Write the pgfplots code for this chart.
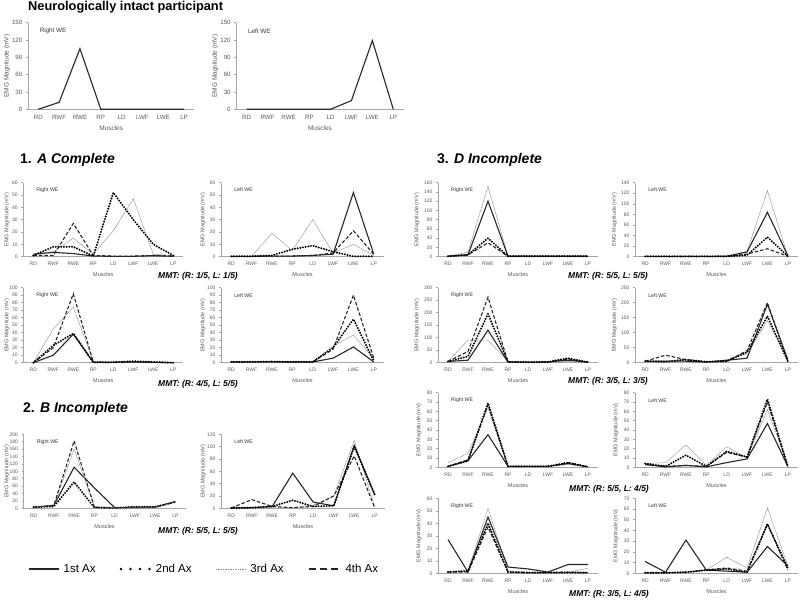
\documentclass[border=0pt]{standalone}
\usepackage{fontspec}
\setmainfont{Liberation Sans}
\usepackage{pgfplots}
\usepackage{pgfplotstable}
\pgfplotsset{compat=1.18}

\definecolor{axgray}{HTML}{A6A6A6}
\definecolor{tkgray}{HTML}{595959}
\definecolor{lngray}{HTML}{8C8C8C}

\pgfplotstableread{
x a
0 0
1 12
2 105
3 0
4 0
5 0
6 0
7 0
}\tNR
\pgfplotstableread{
x a
0 0
1 0
2 0
3 0
4 0
5 15
6 119
7 0
}\tNL
\pgfplotstableread{
x a b c d
0 2 1 2 1
1 3.5 8 4 1
2 2.5 8 15 27
3 0.5 0.5 2 1
4 0.3 52 21 0.5
5 0.3 30 47 0.5
6 0.8 10 2 1
7 0.3 1 1 0.5
}\tARa
\pgfplotstableread{
x a b c d
0 0.3 0.3 0.3 0.3
1 0.3 0.3 0.3 0.3
2 0.5 1 19 0.5
3 0.5 6 5 0.5
4 1 9 30 1
5 2 4 3 3
6 52 0.3 10 21
7 2 0.3 1 2
}\tALa
\pgfplotstableread{
x a b c d
0 0 0 0 0
1 10 23 45 20
2 38 39 74 92
3 0.5 0.5 2 0.5
4 0.5 0.5 0.5 0.5
5 1 2 1 1
6 0.5 1 0.5 0.5
7 0 0 0 0
}\tARb
\pgfplotstableread{
x a b c d
0 1 1 1 1
1 1 1 1 1
2 1 1.5 1 1
3 1 1 1 1
4 1 1 1 1
5 6 20 22 18
6 21 58 37 90
7 1 2 5 6
}\tALb
\pgfplotstableread{
x a b c d
0 3 3 3 3
1 8 5 8 8
2 111 71 160 182
3 55 2 5 3
4 2 1 1 1
5 2 4 2 3
6 3 4 2 3
7 18 17 17 17
}\tBR
\pgfplotstableread{
x a b c d
0 0.5 0.5 0.5 0.5
1 1 1 1 14
2 3 3 2 3
3 57 13 1 1
4 10 3 5 3
5 4 4 20 20
6 102 100 110 85
7 22 22 2 0.5
}\tBL
\pgfplotstableread{
x a b c d
0 1 1 1 1
1 4 4 10 4
2 120 40 152 30
3 1 1 1 1
4 1 1 1 1
5 1 1 1 1
6 1 1 1 1
7 1 1 1 1
}\tDRa
\pgfplotstableread{
x a b c d
0 0.5 0.5 0.5 0.5
1 0.5 0.5 0.5 0.5
2 0.5 0.5 0.5 0.5
3 0.5 0.5 0.5 0.5
4 1 0.5 0.5 0.5
5 9 3 10 5
6 84 37 125 15
7 2 1 1 1
}\tDLa
\pgfplotstableread{
x a b c d
0 5 5 5 5
1 10 25 90 45
2 130 195 90 262
3 2 3 5 3
4 2 2 2 2
5 3 3 2 3
6 10 18 5 15
7 2 2 2 2
}\tDRb
\pgfplotstableread{
x a b c d
0 5 5 5 5
1 5 3 5 25
2 5 10 12 10
3 2 3 3 3
4 8 5 10 5
5 15 35 30 40
6 195 155 140 200
7 10 5 15 3
}\tDLb
\pgfplotstableread{
x a b c d
0 1 1 5 1
1 7 7 15 8
2 35 69 64 67
3 1 1 1 1
4 1 1 1 1
5 1 1 1 1
6 4 5 3 5
7 0.5 0.5 0.5 0.5
}\tDRc
\pgfplotstableread{
x a b c d
0 3 4 4 3
1 0.5 1 5 1
2 2 13 24 2
3 0.5 1 2 1
4 5 17 22 16
5 9 11 10 11
6 47 73 62 70
7 1 1 2 1
}\tDLc
\pgfplotstableread{
x a b c d
0 27 1 0.5 1
1 1 2 2 1
2 45 40 52 37
3 5 1 2 1
4 3.5 0.5 1 0.5
5 1 0.5 1 0.5
6 7 0.5 1 1
7 7 0.5 4 0.5
}\tDRd
\pgfplotstableread{
x a b c d
0 11 0.5 0.5 0.5
1 1 0.5 0.5 0.5
2 31 1 1 1
3 3 3 3 3
4 2 4 15 5
5 1 1 5 2
6 25 46 61 46
7 7 5 7 3
}\tDLd

\pgfplotsset{
  emg/.style={
    scale only axis, anchor=south west, clip=false,
    xmin=-0.5, xmax=7.5, ymin=0,
    xtick={0,...,7}, xticklabels={RD,RWF,RWE,RP,LD,LWF,LWE,LP},
    axis x line*=bottom, axis y line*=left,
    axis line style={-, draw=axgray, line width=0.5pt},
    xtick style={draw=none},
    ytick style={draw=axgray, line width=0.5pt},
    tick align=outside, major tick length=2pt,
    tick label style={font=\fontsize{5}{6}\selectfont, text=tkgray},
    xlabel={Muscles}, ylabel={EMG Magnitude (mV)},
    label style={font=\fontsize{5.5}{6.5}\selectfont, text=tkgray},
    /pgf/number format/assume math mode=true,
    no markers,
  },
  yoff/.style={ylabel style={at={(axis description cs:0,0.5)}, anchor=center, yshift=#1pt, font=\fontsize{5.5}{6.5}\selectfont, text=tkgray}},
  s1/.style={black!85, line width=1.1pt, solid},
  s2/.style={black, line width=2.2pt, dash pattern=on 0pt off 2.7pt, line cap=round},
  s3/.style={lngray, line width=0.55pt, dash pattern=on 0.8pt off 0.5pt},
  s4/.style={black!85, line width=1.1pt, dash pattern=on 3.5pt off 2pt},
}

\newcommand\panel[9]{%
\begin{axis}[emg, at={(#1pt,#2pt)}, width=#3pt, height=#4pt, ymax=#5, ytick distance=#6, yoff=#9]
\addplot[s3] table[x=x,y=c]{#7};
\addplot[s4] table[x=x,y=d]{#7};
\addplot[s1] table[x=x,y=a]{#7};
\addplot[s2] table[x=x,y=b]{#7};
\node[anchor=west, font=\fontsize{5.2}{6}\selectfont, text=black!80] at (rel axis cs:0.06,0.9) {#8};
\end{axis}}

\begin{document}
\begin{tikzpicture}
\useasboundingbox (0,0) rectangle (800pt,601pt);

% titles
\node[anchor=base west, font=\bfseries\fontsize{12.8}{14}\selectfont, inner sep=0pt] at (28pt,590pt) {Neurologically intact participant};
\node[anchor=base west, font=\bfseries\fontsize{14}{16}\selectfont, inner sep=0pt] at (20pt,437.7pt) {1. \textit{A Complete}};
\node[anchor=base west, font=\bfseries\fontsize{14}{16}\selectfont, inner sep=0pt] at (23pt,188.7pt) {2. \textit{B Incomplete}};
\node[anchor=base west, font=\bfseries\fontsize{14}{16}\selectfont, inner sep=0pt] at (437pt,437.7pt) {3. \textit{D Incomplete}};

% neurologically intact
\begin{axis}[emg, at={(27.9pt,491.7pt)}, width=166.6pt, height=86.6pt, ymax=150, ytick distance=30, yoff=21,
  tick label style={font=\fontsize{6.2}{7}\selectfont, text=tkgray},
  label style={font=\fontsize{6.5}{7.5}\selectfont, text=tkgray},
  ylabel style={font=\fontsize{6.5}{7.5}\selectfont}]
\addplot[s1] table[x=x,y=a]{\tNR};
\node[anchor=west, font=\fontsize{6.3}{7}\selectfont, text=black!80] at (rel axis cs:0.05,0.9) {Right WE};
\end{axis}
\begin{axis}[emg, at={(236.2pt,491.7pt)}, width=167.6pt, height=86.6pt, ymax=150, ytick distance=30, yoff=21,
  tick label style={font=\fontsize{6.2}{7}\selectfont, text=tkgray},
  label style={font=\fontsize{6.5}{7.5}\selectfont, text=tkgray},
  ylabel style={font=\fontsize{6.5}{7.5}\selectfont}]
\addplot[s1] table[x=x,y=a]{\tNL};
\node[anchor=west, font=\fontsize{6.3}{7}\selectfont, text=black!80] at (rel axis cs:0.05,0.9) {Left WE};
\end{axis}

% A complete
\panel{23.3}{344.3}{160}{74}{60}{10}{\tARa}{Right WE}{16.3}
\panel{221}{344.3}{163}{74}{60}{10}{\tALa}{Left WE}{18}
\panel{23.3}{238.3}{160}{75}{100}{10}{\tARb}{Right WE}{16.3}
\panel{221}{238.3}{163}{75}{100}{10}{\tALb}{Left WE}{18}

% B incomplete
\begin{axis}[emg, at={(23.5pt,92.7pt)}, width=162pt, height=74pt, ymax=200, ytick distance=20, yoff=16.5,
  legend style={at={(axis description cs:1.114,-0.82)}, anchor=center, draw=none, fill=none,
    font=\fontsize{11.5}{13}\selectfont, inner sep=0pt,
    /tikz/every even column/.append style={column sep=22pt},
    /tikz/every odd column/.append style={column sep=2pt}},
  legend columns=4]
\addplot[s1, legend image code/.code={\draw[black!85, line width=1.8pt] (0pt,0pt) -- (30pt,0pt);}] table[x=x,y=a]{\tBR};
\addlegendentry{1st Ax}
\addplot[s2, legend image code/.code={\draw[black, line width=2.8pt, line cap=round, dash pattern=on 0pt off 9.5pt] (1.5pt,0pt) -- (31pt,0pt);}] table[x=x,y=b]{\tBR};
\addlegendentry{2nd Ax}
\addplot[s3, legend image code/.code={\draw[lngray, line width=0.8pt, dash pattern=on 0.8pt off 0.9pt] (0pt,0pt) -- (30pt,0pt);}] table[x=x,y=c]{\tBR};
\addlegendentry{3rd Ax}
\addplot[s4, legend image code/.code={\draw[black!85, line width=1.8pt, dash pattern=on 7pt off 4pt] (0pt,0pt) -- (32pt,0pt);}] table[x=x,y=d]{\tBR};
\addlegendentry{4th Ax}
\node[anchor=west, font=\fontsize{5.2}{6}\selectfont, text=black!80] at (rel axis cs:0.06,0.9) {Right WE};
\end{axis}
\panel{221}{92.7}{164}{74}{120}{20}{\tBL}{Left WE}{17.7}

% D incomplete
\panel{438}{344.3}{160}{74}{160}{20}{\tDRa}{Right WE}{21}
\panel{635}{344.3}{163}{74}{140}{20}{\tDLa}{Left WE}{20.5}
\panel{438}{238.3}{160}{75}{300}{50}{\tDRb}{Right WE}{21}
\panel{635}{238.3}{163}{75}{250}{50}{\tDLb}{Left WE}{20.5}
\panel{438}{133.7}{160}{74.6}{80}{10}{\tDRc}{Right WE}{19}
\panel{635}{133.7}{163}{74.6}{80}{10}{\tDLc}{Left WE}{19}
\panel{438}{27.7}{160}{75}{60}{10}{\tDRd}{Right WE}{19}
\panel{635}{27.7}{163}{75}{70}{10}{\tDLd}{Left WE}{19}

% MMT labels
\tikzset{mmt/.style={font=\bfseries\itshape\fontsize{8.5}{10}\selectfont, inner sep=0pt}}
\node[mmt] at (198pt,324.3pt) {MMT: (R: 1/5, L: 1/5)};
\node[mmt] at (198pt,217pt) {MMT: (R: 4/5, L: 5/5)};
\node[mmt] at (198pt,70pt) {MMT: (R: 5/5, L: 5/5)};
\node[mmt] at (608pt,324.3pt) {MMT: (R: 5/5, L: 5/5)};
\node[mmt] at (608pt,219.3pt) {MMT: (R: 3/5, L: 3/5)};
\node[mmt] at (609pt,112pt) {MMT: (R: 5/5, L: 4/5)};
\node[mmt] at (609pt,6.7pt) {MMT: (R: 3/5, L: 4/5)};
\end{tikzpicture}
\end{document}
